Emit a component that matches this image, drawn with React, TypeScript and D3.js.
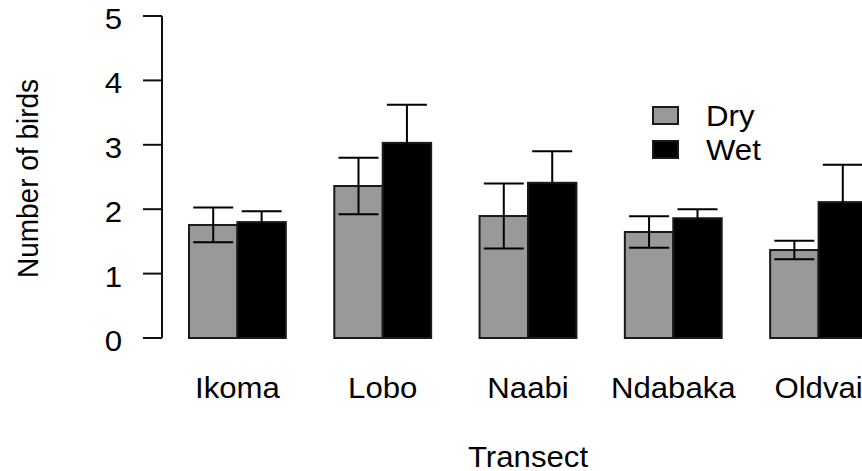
import React from "react";
import * as d3 from "d3";

const categories = ["Ikoma", "Lobo", "Naabi", "Ndabaka", "Oldvai"];
const dryMeans = [1.755, 2.36, 1.894, 1.646, 1.366];
const drySE = [0.27, 0.44, 0.505, 0.245, 0.145];
const wetMeans = [1.8, 3.03, 2.41, 1.86, 2.11];
const wetSE = [0.17, 0.59, 0.49, 0.14, 0.58];
const yTicks = [0, 1, 2, 3, 4, 5];
const seriesNames = ["Dry", "Wet"];
const seriesColors = ["#999999", "#000000"];

const W = 862;
const H = 471;
const FONT = "'Liberation Sans', Arial, sans-serif";
const FS = 29;
const SX = 1.075;

function T({
  x,
  y,
  anchor = "start",
  children,
}: {
  x: number;
  y: number;
  anchor?: string;
  children: React.ReactNode;
}) {
  return (
    <text
      transform={`translate(${x},${y}) scale(${SX},1)`}
      fontSize={FS}
      textAnchor={anchor}
      fill="#000"
    >
      {children}
    </text>
  );
}

export default function App() {
  // barplot units: each group = space 1 + 2 bars of width 1
  const x = d3.scaleLinear().domain([1, 15]).range([189, 867]);
  const y = d3.scaleLinear().domain([0, 5]).range([338, 16]);

  const bars: { x0: number; x1: number; v: number; se: number; s: number }[] = [];
  categories.forEach((_, i) => {
    const start = 1 + 3 * i;
    bars.push({ x0: start, x1: start + 1, v: dryMeans[i], se: drySE[i], s: 0 });
    bars.push({ x0: start + 1, x1: start + 2, v: wetMeans[i], se: wetSE[i], s: 1 });
  });

  const axisX = 162;
  const capHalf = 20;

  return (
    <svg
      width={W}
      height={H}
      style={{ position: "absolute", left: 0, top: 0, background: "#fff" }}
      fontFamily={FONT}
    >
      {/* bars */}
      {bars.map((b, i) => (
        <rect
          key={"b" + i}
          x={x(b.x0)}
          y={y(b.v)}
          width={x(b.x1) - x(b.x0)}
          height={y(0) - y(b.v)}
          fill={seriesColors[b.s]}
          stroke="#1a1a1a"
          strokeWidth={2}
        />
      ))}
      {/* error bars */}
      {bars.map((b, i) => {
        const cx = (x(b.x0) + x(b.x1)) / 2;
        const yt = y(b.v + b.se);
        const yb = y(b.v - b.se);
        return (
          <g key={"e" + i} stroke="#000" strokeWidth={2}>
            <line x1={cx} x2={cx} y1={yt} y2={yb} />
            <line x1={cx - capHalf} x2={cx + capHalf} y1={yt} y2={yt} />
            <line x1={cx - capHalf} x2={cx + capHalf} y1={yb} y2={yb} />
          </g>
        );
      })}
      {/* y axis */}
      <line x1={axisX} x2={axisX} y1={y(5)} y2={y(0)} stroke="#111" strokeWidth={2} />
      {yTicks.map((t) => (
        <g key={"t" + t}>
          <line x1={143} x2={axisX} y1={y(t)} y2={y(t)} stroke="#111" strokeWidth={2} />
          <T x={122} y={y(t) + 13} anchor="end">
            {t}
          </T>
        </g>
      ))}
      {/* category labels */}
      {categories.map((c, i) => (
        <T key={"c" + i} x={x(2 + 3 * i)} y={398} anchor="middle">
          {c}
        </T>
      ))}
      {/* axis titles */}
      <T x={x(8)} y={467} anchor="middle">
        Transect
      </T>
      <text
        transform={`translate(38, 178.5) scale(${SX},1) rotate(-90)`}
        fontSize={28}
        textAnchor="middle"
        fill="#000"
      >
        Number of birds
      </text>
      {/* legend */}
      {seriesNames.map((s, i) => {
        const cy = 115 + i * 34;
        return (
          <g key={"l" + i}>
            <rect
              x={653}
              y={cy - 8}
              width={25}
              height={17}
              fill={seriesColors[i]}
              stroke="#1a1a1a"
              strokeWidth={2}
            />
            <T x={706} y={cy + 11}>
              {s}
            </T>
          </g>
        );
      })}
    </svg>
  );
}
